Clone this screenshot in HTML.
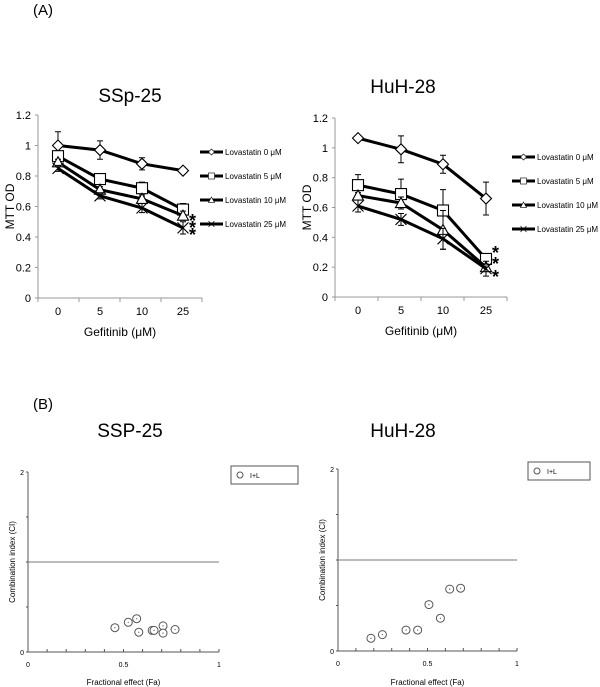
<!DOCTYPE html>
<html><head><meta charset="utf-8"><style>
body{margin:0;background:#fff;width:600px;height:687px;overflow:hidden}
svg{display:block;font-family:"Liberation Sans",sans-serif}
</style></head><body>
<svg id="s" width="600" height="687" viewBox="0 0 600 687">
<text x="33" y="15" font-size="15">(A)</text>
<text x="33" y="409" font-size="15">(B)</text>
</svg>
<script>
const doses=["0","5","10","25"];
const legendNames=["Lovastatin 0 μM","Lovastatin 5 μM","Lovastatin 10 μM","Lovastatin 25 μM"];
const markers=["diamond","square","triangle","x"];
const yTicks=[0,0.2,0.4,0.6,0.8,1,1.2];
const ssp0=[1.0,0.97,0.88,0.835], ssp5=[0.93,0.78,0.72,0.58], ssp10=[0.89,0.71,0.65,0.54], ssp25=[0.85,0.67,0.59,0.46];
const sspErr0=[0.09,0.06,0.04,0.01], sspErr5=[0.02,0.03,0.04,0.04], sspErr10=[0.02,0.02,0.02,0.03], sspErr25=[0.02,0.02,0.03,0.04];
const huh0=[1.065,0.99,0.89,0.66], huh5=[0.75,0.69,0.58,0.255], huh10=[0.68,0.63,0.45,0.2], huh25=[0.61,0.52,0.39,0.19];
const huhErr0=[0,0.09,0.06,0.11], huhErr5=[0.07,0.1,0.14,0.02], huhErr10=[0.02,0.04,0.13,0.02], huhErr25=[0.04,0.04,0.07,0.05];
const sspFa=[0.455,0.525,0.569,0.58,0.65,0.66,0.707,0.707,0.77];
const sspCI=[0.27,0.33,0.37,0.22,0.24,0.24,0.29,0.21,0.25];
const huhFa=[0.184,0.248,0.38,0.445,0.508,0.572,0.624,0.685];
const huhCI=[0.14,0.18,0.23,0.23,0.51,0.36,0.68,0.69];
const faTicks=["0","0.5","1"];

const S=document.getElementById('s');
const NS="http://www.w3.org/2000/svg";
function mk(t,a,txt){const e=document.createElementNS(NS,t);for(const k in a)e.setAttribute(k,a[k]);if(txt!=null)e.textContent=txt;S.appendChild(e);return e;}

function marker(type,x,y){
  let e;
  if(type==="diamond") e=mk('polygon',{points:`${x},${y-5.5} ${x+5.5},${y} ${x},${y+5.5} ${x-5.5},${y}`,fill:'#fff',stroke:'#000','stroke-width':1.1});
  else if(type==="square") e=mk('rect',{x:x-5.5,y:y-5.5,width:11,height:11,fill:'#fff',stroke:'#000','stroke-width':1.1});
  else if(type==="triangle") e=mk('polygon',{points:`${x},${y-5.5} ${x+5.5},${y+4.5} ${x-5.5},${y+4.5}`,fill:'#fff',stroke:'#000','stroke-width':1.1});
  else e=mk('path',{d:`M${x-5.5},${y-5.5}L${x+5.5},${y+5.5}M${x+5.5},${y-5.5}L${x-5.5},${y+5.5}`,stroke:'#000','stroke-width':1.1,fill:'none'});
  return e;
}

function lineChart(o){
  const yS=v=>o.y0-(o.y0-o.y12)*v/1.2;
  const xS=i=>o.cx[i];
  let e=mk('text',{x:o.tx,y:o.ty,'font-size':19,'text-anchor':'middle'},o.title);
  
  
  e=mk('line',{x1:o.ax,y1:o.y12,x2:o.ax,y2:o.y0,stroke:'#999'});
  
  
  e=mk('line',{x1:o.ax,y1:o.y0,x2:o.axEnd,y2:o.y0,stroke:'#999'});
  
  
  yTicks.forEach(v=>{
    mk('line',{x1:o.ax-3,y1:yS(v),x2:o.ax,y2:yS(v),stroke:'#999'});
    const t=mk('text',{x:o.ax-7,y:yS(v)+4,'font-size':11,'text-anchor':'end'},String(v));
    
    
  });
  const step=(o.axEnd-o.ax)/4;
  for(let i=0;i<=4;i++) mk('line',{x1:o.ax+i*step,y1:o.y0,x2:o.ax+i*step,y2:o.y0+4,stroke:'#999'});
  doses.forEach((d,i)=>{
    const t=mk('text',{x:xS(i),y:o.y0+17,'font-size':11,'text-anchor':'middle'},d);
    
    
  });
  e=mk('text',{x:(o.ax+o.axEnd)/2,y:o.y0+38,'font-size':12,'text-anchor':'middle'},'Gefitinib (μM)');
  
  
  const my=(o.y0+o.y12)/2;
  e=mk('text',{x:o.ax-24,y:my,'font-size':12,'text-anchor':'middle',transform:`rotate(-90 ${o.ax-24} ${my})`},'MTT OD');
  
  
  o.series.forEach((vals,si)=>{
    const err=o.errs[si];
    vals.forEach((v,i)=>{ if(err[i]>0){
      const x=xS(i);
      mk('path',{d:`M${x},${yS(v-err[i])}V${yS(v+err[i])}M${x-3},${yS(v-err[i])}h6M${x-3},${yS(v+err[i])}h6`,stroke:'#000','stroke-width':1});
    }});
    const p=mk('polyline',{points:vals.map((v,i)=>xS(i)+','+yS(v)).join(' '),fill:'none',stroke:'#000','stroke-width':3});
    
    
    vals.forEach((v,i)=>{const m=marker(markers[si],xS(i),yS(v));
      
      });
    const ly=o.ly[si];
    mk('line',{x1:o.lx,y1:ly,x2:o.lx+23,y2:ly,stroke:'#000','stroke-width':3});
    const lm=marker(markers[si],o.lx+11.5,ly);
    lm.setAttribute('transform',`translate(${o.lx+11.5} ${ly}) scale(0.55) translate(${-(o.lx+11.5)} ${-ly})`);
    const lt=mk('text',{x:o.lx+25,y:ly+3,'font-size':8},legendNames[si]);
    
    
  });
  o.stars.forEach(sy=>{const t=mk('text',{x:o.starX,y:sy+8,'font-size':18,'font-weight':'bold'},'*');
    
    });
}

lineChart({key:'ssp25',title:'SSp-25',tx:130,ty:102,ax:38,axEnd:202,y0:298,y12:115,cx:[58,100,142,183],
  series:[ssp0,ssp5,ssp10,ssp25],errs:[sspErr0,sspErr5,sspErr10,sspErr25],lx:200,ly:[152,176,200,224],starX:189,stars:[219,226,233]});
lineChart({key:'huh28',title:'HuH-28',tx:403,ty:93,ax:335,axEnd:507,y0:297,y12:118,cx:[358,401,443,486],
  series:[huh0,huh5,huh10,huh25],errs:[huhErr0,huhErr5,huhErr10,huhErr25],lx:512,ly:[157,181,205,229],starX:492,stars:[251,262,275]});

function ciChart(o){
  const xS=f=>o.ax+(o.x1-o.ax)*f;
  const yS=c=>o.y0-(o.y0-o.y2)*c/2;
  let e=mk('text',{x:o.tx,y:437,'font-size':19,'text-anchor':'middle'},o.title);
  
  
  mk('line',{x1:o.ax,y1:o.y2,x2:o.ax,y2:o.y0,stroke:'#555'});
  mk('line',{x1:o.ax,y1:o.y0,x2:o.x1,y2:o.y0,stroke:'#555'});
  for(let i=0;i<=4;i++) mk('line',{x1:o.ax-2,y1:yS(i/2),x2:o.ax,y2:yS(i/2),stroke:'#555'});
  for(let i=1;i<=10;i++) mk('line',{x1:xS(i/10),y1:o.y0-3,x2:xS(i/10),y2:o.y0,stroke:'#555'});
  ['0','2'].forEach((l,i)=>mk('text',{x:o.ax-4,y:yS(i*2)+3,'font-size':7,'text-anchor':'end'},l));
  faTicks.forEach((l,i)=>mk('text',{x:xS(i/2),y:o.y0+15,'font-size':7,'text-anchor':'middle'},l));
  e=mk('line',{x1:o.ax,y1:yS(1),x2:o.x1,y2:yS(1),stroke:'#777'});
  
  
  e=mk('text',{x:(o.ax+o.x1)/2,y:685,'font-size':8,'text-anchor':'middle'},'Fractional effect (Fa)');
  
  
  const my=(o.y0+o.y2)/2;
  e=mk('text',{x:o.ax-13,y:my,'font-size':8,'text-anchor':'middle',transform:`rotate(-90 ${o.ax-13} ${my})`},'Combination index (CI)');
  
  
  o.fa.forEach((f,i)=>{
    const c=mk('circle',{cx:xS(f),cy:yS(o.ci[i]),r:4,fill:'#fff',stroke:'#555','stroke-width':1});
    
    
    mk('circle',{cx:xS(f),cy:yS(o.ci[i]),r:0.6,fill:'#555'});
  });
  e=mk('rect',{x:o.lx,y:o.lyy,width:o.lw,height:18,fill:'#fff',stroke:'#555'});
  
  
  mk('circle',{cx:o.lx+9,cy:o.lyy+9,r:3,fill:'#fff',stroke:'#555'});
  mk('text',{x:o.lx+19,y:o.lyy+12,'font-size':7},'I+L');
}
ciChart({key:'ssp25-ci',title:'SSP-25',tx:130,ax:28,x1:219,y0:652,y2:472,fa:sspFa,ci:sspCI,lx:231,lyy:466,lw:67});
ciChart({key:'huh28-ci',title:'HuH-28',tx:403,ax:338,x1:517,y0:651,y2:469,fa:huhFa,ci:huhCI,lx:528,lyy:462,lw:62});
</script>
</body></html>
